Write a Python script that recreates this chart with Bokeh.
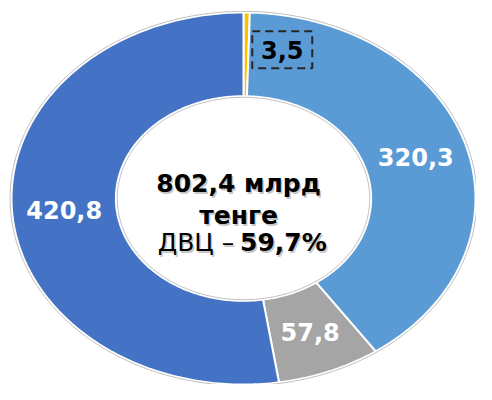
import numpy as np
from bokeh.plotting import figure
from bokeh.models import Range1d, ColumnDataSource
from bokeh.core.properties import value
from bokeh.embed import file_html
from bokeh.resources import INLINE

# ---- data ----
categories = ["Прочие", "Сегмент 2", "Сегмент 3", "ДВЦ"]
values = [3.5, 320.3, 57.8, 420.8]
labels = ["3,5", "320,3", "57,8", "420,8"]
colors = ["#FFC000", "#5B9BD5", "#A5A5A5", "#4472C4"]
label_colors = ["#000000", "#FFFFFF", "#FFFFFF", "#FFFFFF"]
center_line1 = "802,4 млрд"
center_line2 = "тенге"
center_line3a = "ДВЦ –"
center_line3b = "59,7%"

# ---- geometry (unit circle, stretched by axis ranges into an ellipse) ----
R_OUT = 1.0
R_IN = 0.55
R_LAB = 0.775

W, H = 476, 384
cx_px, cy_px = 243, 198      # centre in figure pixels
rx_px, ry_px = 232, 186      # outer radii in pixels

p = figure(width=W, height=H, output_backend="svg", toolbar_location=None,
           x_range=Range1d(-cx_px / rx_px, (W - cx_px) / rx_px),
           y_range=Range1d(-(H - cy_px) / ry_px, cy_px / ry_px),
           min_border=0, background_fill_color="white", border_fill_color="white")
p.axis.visible = False
p.grid.visible = False
p.outline_line_color = None

total = sum(values)
angles = np.cumsum([0] + [v / total * 2 * np.pi for v in values])
start = np.pi / 2  # top, clockwise

xs, ys, mids = [], [], []
for i in range(len(values)):
    a0 = start - angles[i]
    a1 = start - angles[i + 1]
    n = max(4, int(abs(a1 - a0) / (2 * np.pi) * 400))
    t = np.linspace(a0, a1, n)
    px = np.concatenate([R_OUT * np.cos(t), R_IN * np.cos(t[::-1])])
    py = np.concatenate([R_OUT * np.sin(t), R_IN * np.sin(t[::-1])])
    xs.append(list(px))
    ys.append(list(py))
    mids.append((a0 + a1) / 2)

src = ColumnDataSource(dict(xs=xs, ys=ys, color=colors, cat=categories))
p.patches("xs", "ys", fill_color="color", line_color="white", line_width=2, source=src)

# thin grey rims
tt = np.linspace(0, 2 * np.pi, 400)
p.line(1.006 * np.cos(tt), 1.006 * np.sin(tt), line_color="#BFBFBF", line_width=1)
p.line((R_IN - 0.006) * np.cos(tt), (R_IN - 0.006) * np.sin(tt), line_color="#BFBFBF", line_width=1)

# data labels
lx = [R_LAB * np.cos(m) for m in mids]
ly = [R_LAB * np.sin(m) for m in mids]
# small slice label moved out manually (as in the original)
lx[0], ly[0] = 0.167, 0.80
lsrc = ColumnDataSource(dict(x=lx, y=ly, text=labels, c=label_colors))
p.text("x", "y", text="text", source=lsrc, text_color="c",
       text_font=value("DejaVu Sans"), text_font_style="bold", text_font_size="24px",
       text_align="center", text_baseline="middle")
p.rect(x=lx[0], y=ly[0], width=60, height=37, width_units="screen", height_units="screen",
       fill_color=None, line_color="#262626", line_width=2, line_dash="8 5")

# centre text
def ctext(x, y, t, bold, align):
    for off, col, alpha in [((1.5, -1.5), "#7F7F7F", 0.45), ((0, 0), "#000000", 1.0)]:
        p.text(x=[x], y=[y], text=[t], x_offset=off[0], y_offset=-off[1],
               text_color=col, text_alpha=alpha,
               text_font=value("DejaVu Sans"), text_font_style="bold" if bold else "normal",
               text_font_size="25px", text_align=align, text_baseline="alphabetic")

ctext(-0.021, 0.078, center_line1, True, "center")
ctext(-0.021, -0.093, center_line2, True, "center")
ctext(-0.040, -0.238, center_line3a, False, "right")
ctext(-0.015, -0.238, center_line3b, True, "left")

open("out.html", "w").write(file_html(p, INLINE))
